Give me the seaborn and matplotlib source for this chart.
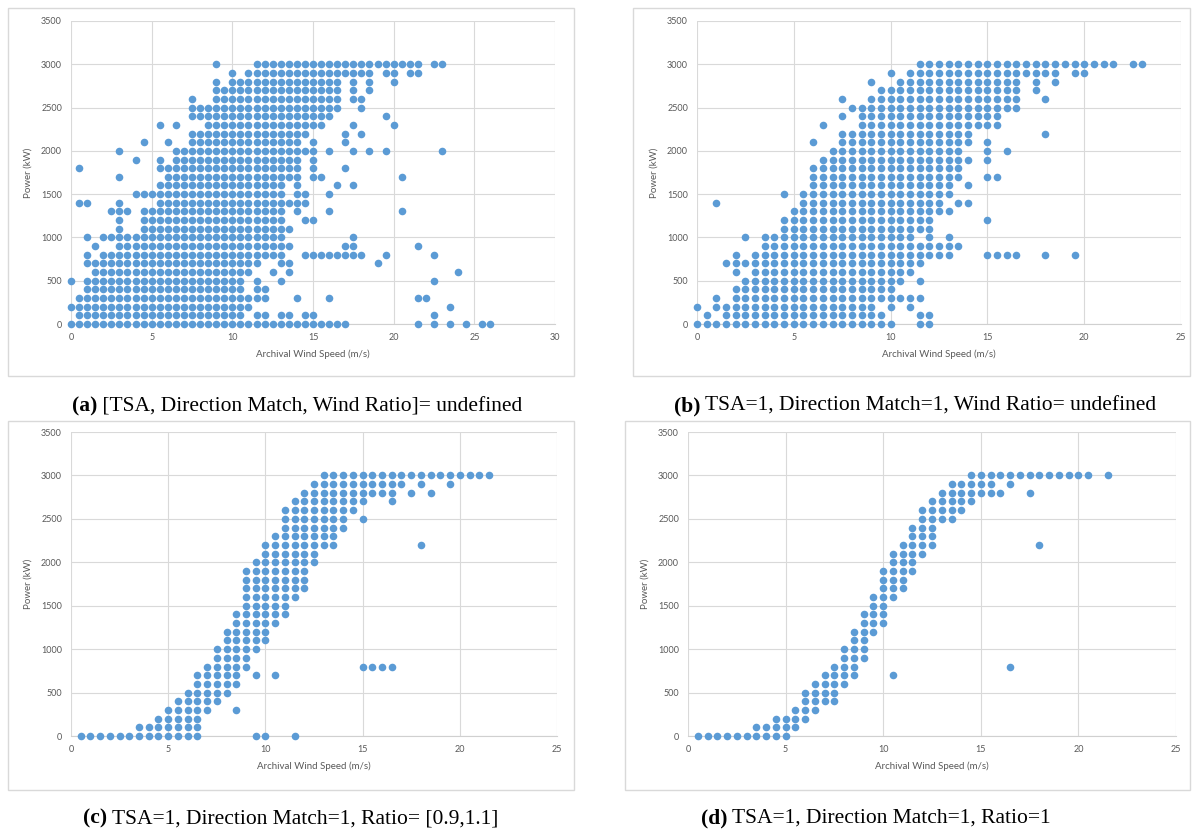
import matplotlib
matplotlib.use("Agg")
import matplotlib.pyplot as plt
from matplotlib.patches import Rectangle
import pandas as pd
import seaborn as sns

# Each grid: one row per 100 kW level from 3000 kW down to 0 kW,
# one character per 0.5 m/s step starting at 0 m/s ("#" = a point).
power_levels = list(range(3000, -1, -100))
speed_step = 0.5

grid_a = [
    ".......... ........#. ...####### ########## ####.##... ...",
    ".......... .......... #.######## ########.# #.##...... ...",
    ".......... ........#. ########## ####.#.#.. #......... ...",
    ".......... ........## ########## ####.#.#.. .......... ...",
    ".......... .....#..## ########## ####.##... .......... ...",
    ".......... .....##### ########## ####..#... .......... ...",
    ".......... .....##### ########## ###......# .......... ...",
    ".......... .#.#...### ########## ##...#.... #......... ...",
    ".......... .....##### ########## ....#.#... .......... ...",
    ".........# ..#..##### #########. #...#..... .......... ...",
    "......#... ...####### ########## #.#..#.#.# ......#... ...",
    "........#. .#.####### #########. #......... .......... ...",
    ".#........ .######### #########. #...#..... .......... ...",
    "......#... ..######## #########. ##........ .#........ ...",
    ".......... .######### #######.#. ...#.#.... .......... ...",
    "........## ########## #######.## ..#....... .......... ...",
    ".##...#... .######### ########## .......... .......... ...",
    ".....###.# ########## #######.#. ..#....... .#........ ...",
    "......#..# ########## #######..# #......... .......... ...",
    "......#..# ########## ########.. .......... .......... ...",
    "..#.###### ########## #######... .....#.... .......... ...",
    "...#..#### ########## ########.. ....##.... ...#...... ...",
    "..#.###### ########## #######..# #######..# .....#.... ...",
    "..######## ########## ####..##.. ........#. .......... ...",
    "...####### ########## ###..#.#.. .......... ........#. ...",
    "#.######## ########## ##.#..#... .......... .....#.... ...",
    "..######## ########## ##.##..... .......... .......... ...",
    ".######### ########## #####...#. ..#....... ...##..... ...",
    "########## ########## ###....... .......... .......#.. ...",
    ".######### ########## ##.##.##.# #......... .....#.... ...",
    "########## ########## ########## #####..... ...#.#.#.# .##",
]

grid_b = [
    ".......... .......... ...####### ########## ####.##",
    ".......... .......... #.######## ########.# #......",
    ".......... ........#. .######### ####.#.#.. .......",
    ".......... .........# ########## ####.#.... .......",
    ".......... .....#..## ########## ####..#... .......",
    ".......... ......#### ########## ####...... .......",
    ".......... .....#.### ########## ##........ .......",
    ".......... ...#...### ########## ##........ .......",
    ".......... .....##### #########. ......#... .......",
    ".......... ..#..##### #########. #......... .......",
    ".......... ....###### ########.. #.#....... .......",
    ".......... ...####### #########. #......... .......",
    ".......... ..######## ########.. .......... .......",
    ".......... ..######## ########.. ##........ .......",
    ".......... ..######## #######.#. .......... .......",
    ".........# .######### #######... .......... .......",
    "..#....... .######### ######.##. .......... .......",
    ".......... ########## #######... .......... .......",
    ".........# ########## #####..... #......... .......",
    ".........# ########## #####..... .......... .......",
    ".....#.### ########## ###.#.#... .......... .......",
    ".......### ########## ########.. .......... .......",
    "....#.#### ########## #######... ####..#..# .......",
    "...####### ########## ####...... .......... .......",
    "....#.#### ########## ###....... .......... .......",
    ".....##### ########## ##.#...... .......... .......",
    "....###### ########## #......... .......... .......",
    "..#.###### ########## ####...... .......... .......",
    "#.######## #########. #.#....... .......... .......",
    ".#.####### ########## ...##..... .......... .......",
    "########## ########## #..##..... .......... .......",
]

grid_c = [
    ".......... .......... ......#### ########## ####",
    ".......... .......... .....##### #####.#..# ....",
    ".......... .......... ....###### ####.#.#.. ....",
    ".......... .......... ...####### #..#...... ....",
    ".......... .......... ..######## .......... ....",
    ".......... .......... ..#######. #......... ....",
    ".......... .......... ..#######. .......... ....",
    ".......... .......... .#######.. .......... ....",
    ".......... .......... ########.. ......#... ....",
    ".......... .......... ######.... .......... ....",
    ".......... .........# ######.... .......... ....",
    ".......... ........## #####..... .......... ....",
    ".......... ........## #####..... .......... ....",
    ".......... ........## #####..... .......... ....",
    ".......... ........## ####...... .......... ....",
    ".......... ........## ###....... .......... ....",
    ".......... .......### ###....... .......... ....",
    ".......... .......### ##........ .......... ....",
    ".......... ......#### #......... .......... ....",
    ".......... ......#### #......... .......... ....",
    ".......... .....##### .......... .......... ....",
    ".......... .....####. .......... .......... ....",
    ".......... ....#####. .......... ####...... ....",
    ".......... ...#####.# .#........ .......... ....",
    ".......... ...#####.. .......... .......... ....",
    ".......... ..#####... .......... .......... ....",
    ".......... .#####.... .......... .......... ....",
    ".......... #####..#.. .......... .......... ....",
    ".........# ####...... .......... .......... ....",
    ".......### ####...... .......... .......... ....",
    ".######### ####.....# #..#...... .......... ....",
]

grid_d = [
    ".......... .......... .........# ########## ##.#",
    ".......... .......... .......### ##.#...... ....",
    ".......... .......... ......#### ###..#.... ....",
    ".......... .......... .....##### .......... ....",
    ".......... .......... ....#####. .......... ....",
    ".......... .......... ....####.. .......... ....",
    ".......... .......... ...###.... .......... ....",
    ".......... .......... ...###.... .......... ....",
    ".......... .......... ..####.... ......#... ....",
    ".......... .......... .####..... .......... ....",
    ".......... .......... .###...... .......... ....",
    ".......... .......... ####...... .......... ....",
    ".......... .......... ###....... .......... ....",
    ".......... .......... ###....... .......... ....",
    ".......... .........# ##........ .......... ....",
    ".......... .........# #......... .......... ....",
    ".......... ........## #......... .......... ....",
    ".......... ........## #......... .......... ....",
    ".......... .......### .......... .......... ....",
    ".......... .......##. .......... .......... ....",
    ".......... ......###. .......... .......... ....",
    ".......... ......###. .......... .......... ....",
    ".......... .....###.. .......... ...#...... ....",
    ".......... ....####.. .#........ .......... ....",
    ".......... ...####... .......... .......... ....",
    ".......... ..####.... .......... .......... ....",
    ".......... ..####.... .......... .......... ....",
    ".......... .###...... .......... .......... ....",
    ".........# ###....... .......... .......... ....",
    ".......### ##........ .......... .......... ....",
    ".######### #......... .......... .......... ....",
]

x_max = [30, 25, 25, 25]
captions_bold = ["(a)", "(b)", "(c)", "(d)"]
captions_rest = [
    " [TSA, Direction Match, Wind Ratio]= undefined",
    " TSA=1, Direction Match=1, Wind Ratio= undefined",
    " TSA=1, Direction Match=1, Ratio= [0.9,1.1]",
    " TSA=1, Direction Match=1, Ratio=1",
]


def grid_to_frame(rows):
    speeds, powers = [], []
    for p, row in zip(power_levels, rows):
        for i, c in enumerate(row.replace(" ", "")):
            if c == "#":
                speeds.append(i * speed_step)
                powers.append(p)
    return pd.DataFrame({"speed": speeds, "power": powers})


W, H = 1194, 830
sns.set_style("white")
plt.rcParams["font.family"] = ["Lato", "DejaVu Sans"]

fig = plt.figure(figsize=(W / 100, H / 100), dpi=100)

# pixel layout: axes (left, right, top, bottom), chart box, caption centre
axes_px = [(71, 555, 21, 324), (697, 1181, 21, 324),
           (71, 557, 432, 736), (688, 1176, 432, 736)]
box_px = [(8, 574, 8, 376), (633, 1190, 8, 376),
          (8, 574, 421, 790), (625, 1190, 421, 790)]
caption_px = [(297, 411), (915, 411), (291, 823), (876, 823)]

grey = "#595959"
for grid, xm, (l, r, t, b), (bl, br, bt, bb) in zip(
        [grid_a, grid_b, grid_c, grid_d], x_max, axes_px, box_px):
    fig.add_artist(Rectangle((bl / W, 1 - bb / H), (br - bl) / W, (bb - bt) / H,
                             transform=fig.transFigure, facecolor="white",
                             edgecolor="#d9d9d9", linewidth=1, zorder=0))
    ax = fig.add_axes([l / W, 1 - b / H, (r - l) / W, (b - t) / H])
    ax.patch.set_alpha(0)
    df = grid_to_frame(grid)
    sns.scatterplot(data=df, x="speed", y="power", ax=ax, color="#5b9bd5",
                    s=30, linewidth=0, clip_on=False, zorder=3)
    ax.set_xlim(0, xm)
    ax.set_ylim(0, 3500)
    ax.set_xticks(range(0, xm + 1, 5))
    ax.set_yticks(range(0, 3501, 500))
    ax.set_axisbelow(True)
    ax.grid(True, color="#d9d9d9", linewidth=0.8)
    for side, sp in ax.spines.items():
        sp.set_visible(side == "bottom")
        sp.set_color("#d0d0d0")
    ax.tick_params(length=0, labelsize=6.5, labelcolor=grey, pad=6.5)
    ax.set_xlabel("Archival Wind Speed (m/s)", fontsize=7, color=grey, labelpad=5)
    ax.set_ylabel("Power (kW)", fontsize=7, color=grey, labelpad=6)

renderer = fig.canvas.get_renderer()
cap_kw = dict(fontsize=15.5, family=["Liberation Serif", "DejaVu Serif"],
              color="black", va="baseline")
for bold, rest, (cx, cy) in zip(captions_bold, captions_rest, caption_px):
    t1 = fig.text(0, 0, bold, fontweight="bold", **cap_kw)
    t2 = fig.text(0, 0, rest, **cap_kw)
    w1 = t1.get_window_extent(renderer).width
    w2 = t2.get_window_extent(renderer).width
    x0 = cx - (w1 + w2) / 2
    t1.set_position((x0 / W, 1 - cy / H))
    t2.set_position(((x0 + w1) / W, 1 - cy / H))

fig.savefig("out.png", dpi=100)
